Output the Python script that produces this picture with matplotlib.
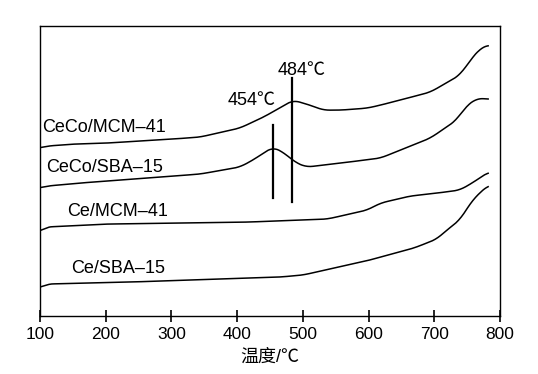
import matplotlib
matplotlib.use("Agg")
import matplotlib.pyplot as plt
import numpy as np

plt.rcParams['font.family'] = ['Liberation Sans', 'Noto Sans CJK SC', 'DejaVu Sans']

# H2-TPR traces (temperature in degC, signal in arbitrary units, offset)
t_ceco_mcm = [100, 110, 150, 200, 250, 300, 343, 404, 440, 459, 485, 511, 531, 557,
              598, 618, 694, 739, 755, 770, 782]
s_ceco_mcm = [168, 170, 172, 173, 175, 177, 179, 188, 199, 206, 216, 211, 206, 206,
              208, 211, 224, 241, 256, 268, 271]

t_ceco_sba = [100, 110, 160, 220, 280, 343, 404, 424, 440, 454, 470, 488, 505, 557,
              618, 694, 734, 747, 765, 782]
s_ceco_sba = [128, 130, 133, 136, 139, 142, 149, 156, 163, 169, 164, 154, 149, 153,
              158, 178, 196, 209, 218, 217]

t_ce_mcm = [100, 108, 200, 313, 416, 537, 598, 618, 663, 704, 739, 760, 782]
s_ce_mcm = [84, 89, 92, 93, 94, 97, 106, 113, 120, 123, 126, 134, 144]

t_ce_sba = [100, 110, 237, 465, 500, 602, 618, 669, 704, 719, 739, 758, 782]
s_ce_sba = [28, 32, 34, 39, 41, 56, 59, 68, 77, 86, 96, 116, 131]

series = [
    ("CeCo/MCM\u201341", t_ceco_mcm, s_ceco_mcm, (104, 189)),
    ("CeCo/SBA\u201315", t_ceco_sba, s_ceco_sba, (110, 149)),
    ("Ce/MCM\u201341", t_ce_mcm, s_ce_mcm, (141, 105)),
    ("Ce/SBA\u201315", t_ce_sba, s_ce_sba, (147, 48)),
]

peak_temps = [454, 484]
peak_spans = [(118, 191), (114, 238)]
peak_labels = [(386, 216), (462, 246)]

xticks = [100, 200, 300, 400, 500, 600, 700, 800]

fig = plt.figure(figsize=(5.38, 3.74), dpi=100)
ax = fig.add_axes([0.0743, 0.155, 0.855, 0.775])


def smooth(t, s):
    tt = np.linspace(t[0], t[-1], 500)
    ss = np.interp(tt, t, s)
    k = 15
    pad = np.pad(ss, k // 2, mode="edge")
    ss = np.convolve(pad, np.ones(k) / k, mode="valid")
    return tt, ss


for name, t, s, (lx, ly) in series:
    tt, ss = smooth(t, s)
    ax.plot(tt, ss, color="black", lw=1.1)
    ax.text(lx, ly, name, fontsize=13, ha="left", va="center")

for tp, (y0, y1), (lx, ly) in zip(peak_temps, peak_spans, peak_labels):
    ax.plot([tp, tp], [y0, y1], color="black", lw=1.6)
    ax.text(lx, ly, f"{tp}\u2103", fontsize=13, ha="left", va="center")

ax.set_xlim(100, 800)
ax.set_ylim(0, 290)
ax.set_xticks(xticks)
ax.set_xticklabels([str(v) for v in xticks], fontsize=12.5)
ax.set_yticks([])
ax.tick_params(axis="x", direction="inout", length=8, width=1.2, pad=4)
for sp in ax.spines.values():
    sp.set_linewidth(1.0)
ax.set_xlabel("温度/\u2103", fontsize=13, labelpad=5)

fig.savefig("out.png", dpi=100)
